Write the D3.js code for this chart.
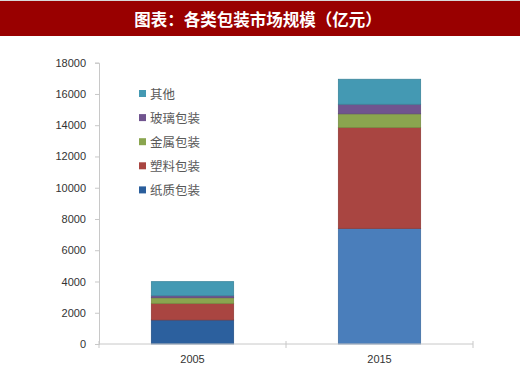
<html>
  <head>
    <style>
      body { margin: 0; background: #fff; }
      svg { display: block; }
      .tick text { font-family: "Liberation Sans", "Open Sans", sans-serif; }
    </style>
  </head>
  <body>
    <svg></svg>
    <script src="https://d3js.org/d3.v7.min.js"></script>
    <script>
      let width = 520,
        height = 369;

      // data (亿元)
      let years = ["2005", "2015"];
      let seriesNames = ["纸质包装", "塑料包装", "金属包装", "玻璃包装", "其他"];
      let paper = [1540, 7400];
      let plastic = [1060, 6460];
      let metal = [360, 870];
      let glass = [130, 610];
      let other = [900, 1600];
      let yTicks = [0, 2000, 4000, 6000, 8000, 10000, 12000, 14000, 16000, 18000];

      let colors = ["#4a7ebb", "#a94541", "#8aa54f", "#70548f", "#4499b3"];
      let legendColors = ["#2a5e9c", "#a94541", "#8aa54f", "#70548f", "#4499b3"];
      // the 2005 paper block looks darker in the original
      let paperBlue = { "2005": "#2c609e", "2015": "#4a7ebb" };

      let rows = years.map((y, i) => ({
        year: y,
        "纸质包装": paper[i],
        "塑料包装": plastic[i],
        "金属包装": metal[i],
        "玻璃包装": glass[i],
        "其他": other[i],
      }));

      let svg = d3.select("svg").attr("width", width).attr("height", height);

      // title bar
      svg.append("rect").attr("x", 0).attr("y", 0).attr("width", width).attr("height", 1).attr("fill", "#d8d8d8");
      svg.append("rect").attr("x", 0).attr("y", 1).attr("width", width).attr("height", 35).attr("fill", "#990000");
      svg
        .append("text")
        .attr("x", 258)
        .attr("y", 19)
        .attr("text-anchor", "middle")
        .attr("dominant-baseline", "central")
        .attr("fill", "#fff")
        .attr("font-family", "Noto Sans CJK SC")
        .attr("font-weight", "bold")
        .attr("font-size", 16.5)
        .text("图表：各类包装市场规模（亿元）");

      let plotLeft = 99,
        plotRight = 473,
        plotTop = 62.7,
        plotBottom = 344;

      let x = d3.scaleBand().domain(years).range([plotLeft, plotRight]).paddingInner(0.56).paddingOuter(0.28);
      let y = d3.scaleLinear().domain([0, 18000]).range([plotBottom, plotTop]);

      let stack = d3.stack().keys(seriesNames);
      let stacked = stack(rows);

      // bars
      svg
        .append("g")
        .selectAll("g")
        .data(stacked)
        .enter()
        .append("g")
        .selectAll("rect")
        .data((s, i) => s.map((d) => ({ d: d, c: i === 0 ? paperBlue[d.data.year] : colors[i] })))
        .enter()
        .append("rect")
        .attr("x", (e) => x(e.d.data.year))
        .attr("y", (e) => y(e.d[1]))
        .attr("width", x.bandwidth())
        .attr("height", (e) => y(e.d[0]) - y(e.d[1]))
        .attr("fill", (e) => e.c)
        .attr("stroke", (e) => d3.color(e.c).darker(0.4))
        .attr("stroke-width", 0.8);

      // y axis
      let yAxis = svg
        .append("g")
        .attr("transform", "translate(" + plotLeft + ",0)")
        .call(d3.axisLeft(y).tickValues(yTicks).tickSize(4).tickPadding(9).tickFormat(d3.format("d")));
      yAxis.select(".domain").attr("stroke", "#c8c8c8");
      yAxis.selectAll(".tick line").attr("stroke", "#c8c8c8");
      yAxis.selectAll(".tick text").attr("font-size", 11).attr("fill", "#333");

      // x axis
      let xAxis = svg
        .append("g")
        .attr("transform", "translate(0," + plotBottom + ")")
        .call(d3.axisBottom(x).tickSize(0).tickPadding(11));
      xAxis.select(".domain").attr("stroke", "#c8c8c8").attr("d", "M" + plotLeft + ",0H" + plotRight);
      xAxis.selectAll(".tick text").attr("font-size", 11).attr("fill", "#333");
      let bounds = [plotLeft, (plotLeft + plotRight) / 2, plotRight];
      svg
        .append("g")
        .selectAll("line")
        .data(bounds)
        .enter()
        .append("line")
        .attr("x1", (d) => d)
        .attr("x2", (d) => d)
        .attr("y1", plotBottom - 3)
        .attr("y2", plotBottom + 4)
        .attr("stroke", "#c8c8c8");

      // legend (reverse order, top = 其他)
      let legend = svg
        .append("g")
        .selectAll("g")
        .data(seriesNames.slice().reverse())
        .enter()
        .append("g")
        .attr("transform", (d, i) => "translate(139," + (93.5 + i * 24.1) + ")");
      legend
        .append("rect")
        .attr("x", 0)
        .attr("y", -3.5)
        .attr("width", 7)
        .attr("height", 7)
        .attr("fill", (d) => legendColors[seriesNames.indexOf(d)]);
      legend
        .append("text")
        .attr("x", 11)
        .attr("y", 0)
        .attr("dominant-baseline", "central")
        .attr("font-family", "Noto Sans CJK SC")
        .attr("font-size", 12.5)
        .attr("fill", "#595959")
        .text((d) => d);
    </script>
  </body>
</html>
